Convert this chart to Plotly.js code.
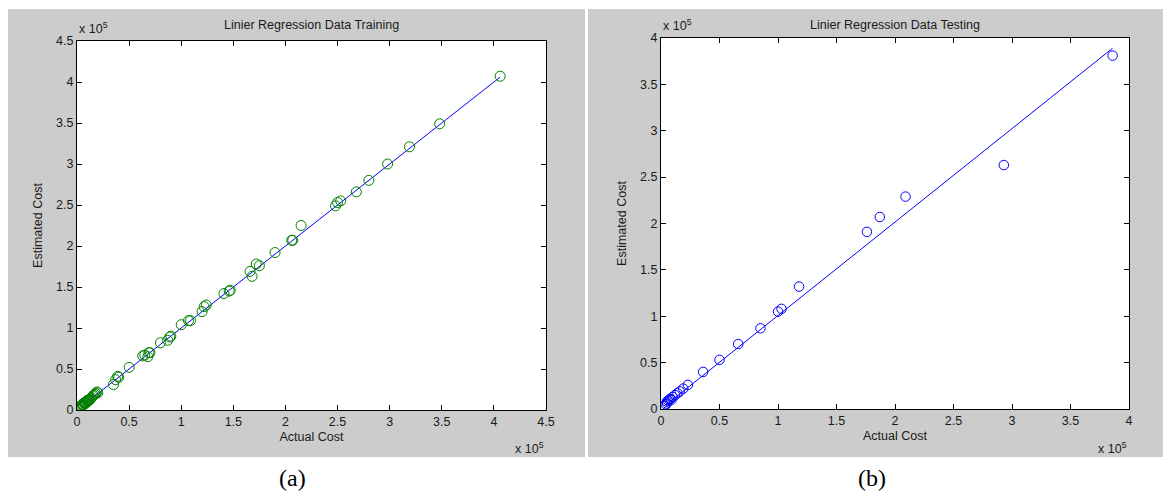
<!DOCTYPE html>
<html>
<head>
<meta charset="utf-8">
<script src="https://cdn.plot.ly/plotly-3.0.1.min.js"></script>
<style>
  html, body { margin: 0; padding: 0; background: #ffffff; }
  #wrap { position: relative; width: 1163px; height: 495px; overflow: hidden; }
  .panel { position: absolute; background: #cccccc; }
  #chart { position: absolute; left: 0; top: 0; width: 1163px; height: 495px; }
</style>
</head>
<body>
<div id="wrap">
  <div class="panel" style="left:8px; top:9px; width:577px; height:448px;"></div>
  <div class="panel" style="left:588px; top:9px; width:575px; height:448px;"></div>
  <div id="chart"></div>
</div>
<script>
// Values in units of 10^5
const trainActual = [0.03,0.04,0.04,0.05,0.05,0.06,0.06,0.07,0.07,0.08,0.08,0.09,0.09,0.10,0.10,0.11,0.12,0.12,0.13,0.14,0.15,0.16,0.17,0.18,0.19,0.20,
  0.35,0.37,0.39,0.40,0.50,0.63,0.65,0.68,0.69,0.70,0.80,0.87,0.89,0.90,1.00,1.07,1.09,
  1.20,1.22,1.24,1.41,1.46,1.47,1.66,1.68,1.72,1.75,1.90,2.06,2.07,2.15,
  2.48,2.50,2.53,2.68,2.80,2.98,3.19,3.48,4.06];
const trainEstimated = [0.04,0.04,0.05,0.06,0.07,0.06,0.07,0.08,0.09,0.08,0.09,0.09,0.10,0.11,0.12,0.12,0.12,0.13,0.14,0.15,0.17,0.18,0.19,0.20,0.22,0.21,
  0.31,0.37,0.41,0.40,0.52,0.66,0.67,0.65,0.70,0.70,0.82,0.85,0.89,0.90,1.04,1.09,1.09,
  1.20,1.26,1.28,1.42,1.45,1.46,1.69,1.63,1.78,1.76,1.92,2.07,2.07,2.25,
  2.49,2.53,2.55,2.66,2.80,3.00,3.21,3.49,4.07];
const trainLineX = [0.05, 4.06];
const trainLineY = [0.05, 4.06];

const testActual = [0.03,0.04,0.05,0.05,0.06,0.07,0.08,0.09,0.10,0.12,0.14,0.16,0.19,0.23,0.36,0.50,0.66,0.85,1.00,1.03,1.18,1.76,1.87,2.09,2.93,3.86];
const testEstimated = [0.03,0.05,0.06,0.08,0.09,0.10,0.11,0.10,0.13,0.15,0.17,0.19,0.22,0.26,0.40,0.53,0.70,0.87,1.05,1.08,1.32,1.91,2.07,2.29,2.63,3.81];
const testLineX = [0.04, 3.86];
const testLineY = [0.04, 3.89];

const ticksTrain = [0,0.5,1,1.5,2,2.5,3,3.5,4,4.5];
const ticksTrainText = ['0','0.5','1','1.5','2','2.5','3','3.5','4','4.5'];
const ticksTest = [0,0.5,1,1.5,2,2.5,3,3.5,4];
const ticksTestText = ['0','0.5','1','1.5','2','2.5','3','3.5','4'];

const W = 1163, H = 495;
const fx = p => p / W;
const fy = p => 1 - p / H;

const FONT = 'Liberation Sans, Arial, sans-serif';
const tickFont = {family: FONT, size: 12.5, color: '#1a1a1a'};

function axis(extra) {
  return Object.assign({
    showline: true, linecolor: '#000', linewidth: 1, mirror: 'ticks',
    ticks: 'inside', ticklen: 5, tickcolor: '#000', tickwidth: 1,
    showgrid: false, zeroline: false, tickfont: tickFont, fixedrange: true,
    tickmode: 'array'
  }, extra);
}

const traces = [
  {x: trainLineX, y: trainLineY, mode: 'lines', line: {color: 'rgb(0,0,255)', width: 1}, xaxis: 'x', yaxis: 'y', hoverinfo: 'skip'},
  {x: trainActual, y: trainEstimated, mode: 'markers', marker: {symbol: 'circle-open', size: 10, color: 'rgb(0,128,0)', line: {width: 1}}, xaxis: 'x', yaxis: 'y'},
  {x: testLineX, y: testLineY, mode: 'lines', line: {color: 'rgb(0,0,255)', width: 1}, xaxis: 'x2', yaxis: 'y2', hoverinfo: 'skip'},
  {x: testActual, y: testEstimated, mode: 'markers', marker: {symbol: 'circle-open', size: 9.5, color: 'rgb(0,0,255)', line: {width: 1}}, xaxis: 'x2', yaxis: 'y2'}
];

const layout = {
  width: W, height: H,
  margin: {l: 0, r: 0, t: 0, b: 0},
  paper_bgcolor: 'rgba(0,0,0,0)',
  plot_bgcolor: '#ffffff',
  showlegend: false,
  xaxis: axis({domain: [fx(77), fx(546)], range: [0, 4.5], tickvals: ticksTrain, ticktext: ticksTrainText, anchor: 'y',
    title: {text: 'Actual Cost', font: {family: FONT, size: 12.5, color: '#1a1a1a'}, standoff: 4}}),
  yaxis: axis({domain: [fy(410), fy(41)], range: [0, 4.5], tickvals: ticksTrain, ticktext: ticksTrainText, anchor: 'x',
    title: {text: 'Estimated Cost', font: {family: FONT, size: 12.5, color: '#1a1a1a'}, standoff: 10}}),
  xaxis2: axis({domain: [fx(661), fx(1129)], range: [0, 4], tickvals: ticksTest, ticktext: ticksTestText, anchor: 'y2',
    title: {text: 'Actual Cost', font: {family: FONT, size: 12.5, color: '#1a1a1a'}, standoff: 4}}),
  yaxis2: axis({domain: [fy(409), fy(38)], range: [0, 4], tickvals: ticksTest, ticktext: ticksTestText, anchor: 'x2',
    title: {text: 'Estimated Cost', font: {family: FONT, size: 12.5, color: '#1a1a1a'}, standoff: 10}}),
  annotations: [
    {text: 'Linier Regression Data Training', xref: 'paper', yref: 'paper', x: fx(311), y: fy(25), xanchor: 'center', yanchor: 'middle', showarrow: false, font: {family: FONT, size: 12.5, color: '#1a1a1a'}},
    {text: 'Linier Regression Data Testing', xref: 'paper', yref: 'paper', x: fx(895), y: fy(25), xanchor: 'center', yanchor: 'middle', showarrow: false, font: {family: FONT, size: 12.5, color: '#1a1a1a'}},
    {text: 'x 10<sup>5</sup>', xref: 'paper', yref: 'paper', x: fx(77), y: fy(28), xanchor: 'left', yanchor: 'middle', showarrow: false, font: {family: FONT, size: 12.5, color: '#1a1a1a'}},
    {text: 'x 10<sup>5</sup>', xref: 'paper', yref: 'paper', x: fx(546), y: fy(448), xanchor: 'right', yanchor: 'middle', showarrow: false, font: {family: FONT, size: 12.5, color: '#1a1a1a'}},
    {text: 'x 10<sup>5</sup>', xref: 'paper', yref: 'paper', x: fx(661), y: fy(25), xanchor: 'left', yanchor: 'middle', showarrow: false, font: {family: FONT, size: 12.5, color: '#1a1a1a'}},
    {text: 'x 10<sup>5</sup>', xref: 'paper', yref: 'paper', x: fx(1129), y: fy(448), xanchor: 'right', yanchor: 'middle', showarrow: false, font: {family: FONT, size: 12.5, color: '#1a1a1a'}},
    {text: '(a)', xref: 'paper', yref: 'paper', x: fx(292), y: fy(478), xanchor: 'center', yanchor: 'middle', showarrow: false, font: {family: 'Liberation Serif, Times New Roman, serif', size: 24, color: '#000'}},
    {text: '(b)', xref: 'paper', yref: 'paper', x: fx(872), y: fy(478), xanchor: 'center', yanchor: 'middle', showarrow: false, font: {family: 'Liberation Serif, Times New Roman, serif', size: 24, color: '#000'}}
  ]
};

Plotly.newPlot('chart', traces, layout, {staticPlot: true, displayModeBar: false});
</script>
</body>
</html>
